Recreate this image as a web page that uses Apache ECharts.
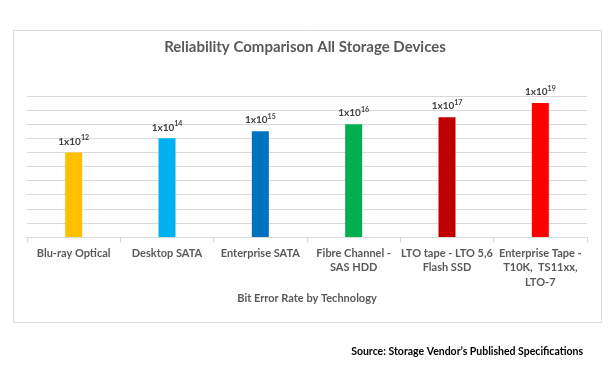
<!DOCTYPE html>
<html>
<head>
<meta charset="utf-8">
<script src="https://cdn.jsdelivr.net/npm/echarts@6/dist/echarts.min.js"></script>
<style>html,body{margin:0;padding:0;background:#fff}#c{width:610px;height:380px}</style>
</head>
<body>
<div id="c"></div>
<script>
var categories = ['Blu-ray Optical', 'Desktop SATA', 'Enterprise SATA', 'Fibre Channel -\nSAS HDD', 'LTO tape - LTO 5,6\nFlash SSD', 'Enterprise Tape -\nT10K,  TS11xx,\nLTO-7'];
var exponents = [12, 14, 15, 16, 17, 19];
var barColors = ['#FFC000', '#00B0F0', '#0070C0', '#00B050', '#C00000', '#FF0000'];
var titleText = 'Reliability Comparison All Storage Devices';
var axisNameText = 'Bit Error Rate by Technology';
var sourceText = 'Source: Storage Vendor\u2019s Published Specifications';

var FONT = 'Lato';
var chart = echarts.init(document.getElementById('c'), null, {renderer: 'canvas'});
var data = exponents.map(function (v, i) {
  return {value: v, itemStyle: {color: barColors[i]}};
});
chart.setOption({
  animation: false,
  backgroundColor: '#fff',
  graphic: [{
    type: 'rect', z: -10, silent: true,
    shape: {x: 13.5, y: 30.5, width: 588, height: 292},
    style: {fill: '#fff', stroke: '#d9d9d9', lineWidth: 1}
  }],
  title: [{
    text: titleText, left: 'center', top: 35,
    textStyle: {fontFamily: FONT, fontSize: 15, fontWeight: 'bold', color: '#595959'}
  }, {
    text: sourceText, right: 22, top: 341,
    textStyle: {fontFamily: FONT, fontSize: 10.5, fontWeight: 'bold', color: '#000'}
  }],
  grid: {left: 27, right: 23, top: 96, bottom: 143},
  xAxis: {
    type: 'category', data: categories,
    name: axisNameText, nameLocation: 'middle', nameGap: 56,
    nameTextStyle: {fontFamily: FONT, fontSize: 11, fontWeight: 'bold', color: '#595959'},
    axisLine: {lineStyle: {color: '#d9d9d9'}},
    axisTick: {show: true, alignWithLabel: false, length: 5, lineStyle: {color: '#d9d9d9'}},
    axisLabel: {interval: 0, margin: 9, fontFamily: FONT, fontSize: 11, fontWeight: 'bold', color: '#595959', lineHeight: 14.5}
  },
  yAxis: {
    type: 'value', min: 0, max: 20, interval: 2,
    axisLabel: {show: false}, axisLine: {show: false}, axisTick: {show: false},
    splitLine: {lineStyle: {color: '#d9d9d9'}}
  },
  series: [{
    type: 'bar', data: data, barWidth: 17,
    label: {
      show: true, position: 'top', distance: 4,
      formatter: function (p) { return '{a|1x10}{b|' + p.value + '}'; },
      rich: {
        a: {fontFamily: FONT, fontSize: 10, fontWeight: 'bold', color: '#404040', lineHeight: 14},
        b: {fontFamily: FONT, fontSize: 7, fontWeight: 'bold', color: '#404040', verticalAlign: 'top', lineHeight: 14, padding: [0, 0, 6, 0]}
      }
    }
  }]
});
</script>
</body>
</html>
